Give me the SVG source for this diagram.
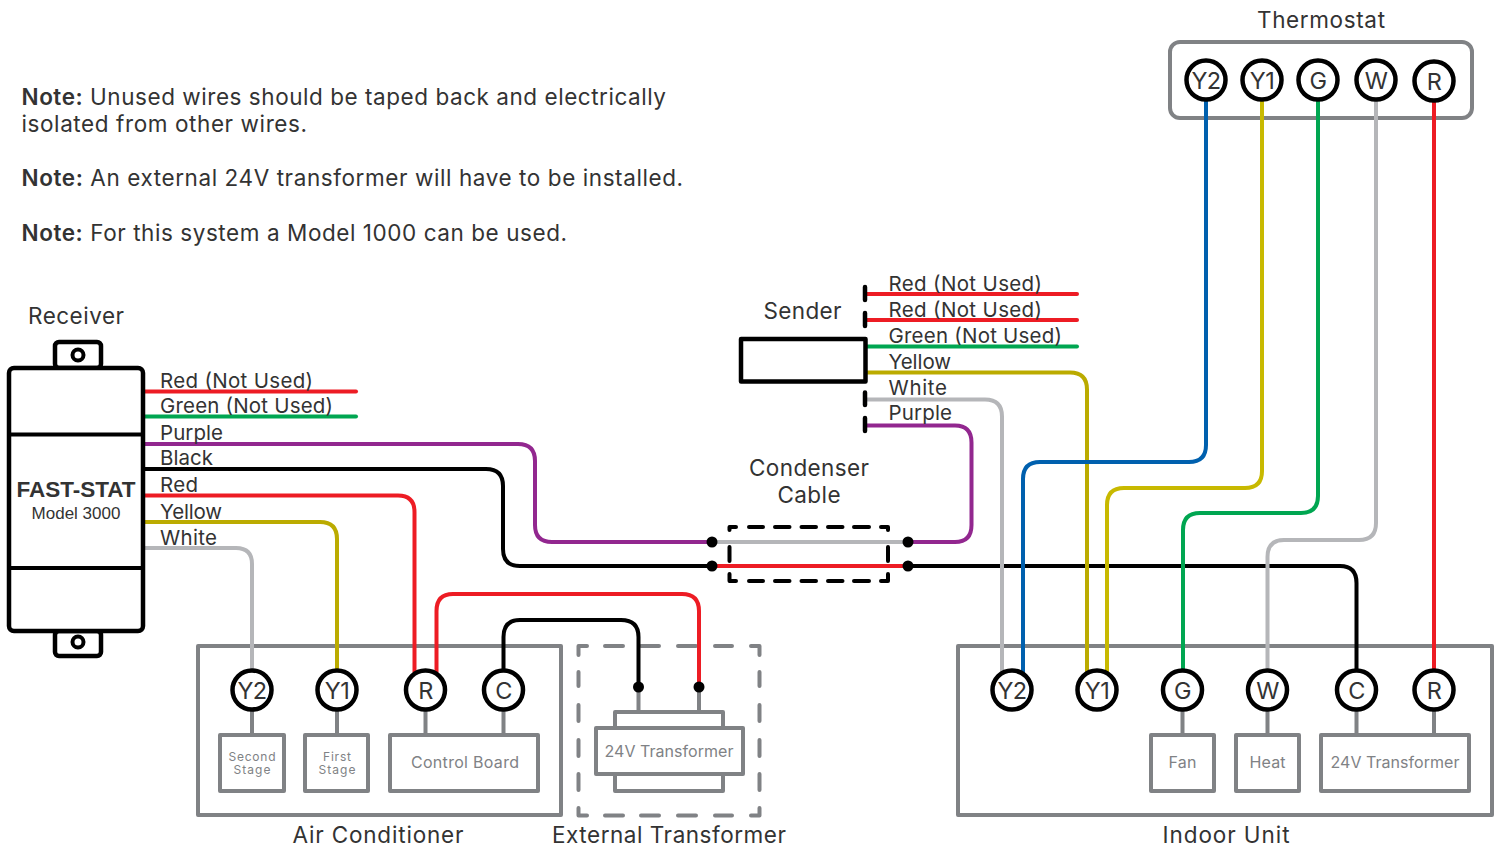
<svg xmlns="http://www.w3.org/2000/svg" width="1500" height="846" viewBox="0 0 1500 846">
<style>
text{font-family:"Inter","Noto Sans","Liberation Sans",sans-serif;fill:#333;font-size:20.500px}
.note{font-size:22.500px}
.note tspan{font-weight:600}
.mid{text-anchor:middle}
.title{font-size:22.500px;text-anchor:middle}
.pin{font-size:23.500px;letter-spacing:-.6px;text-anchor:middle}
.gr{fill:#808285;font-size:16px;text-anchor:middle}
.sm{fill:#808285;font-size:12px;text-anchor:middle}
.ar{font-family:"Liberation Sans",Arial,sans-serif;text-anchor:middle}
.box{fill:#fff;stroke:#808285;stroke-width:4;stroke-linejoin:round}
.gl{fill:none;stroke:#808285;stroke-width:4}
.gd{fill:none;stroke:#808285;stroke-width:4;stroke-linecap:round;stroke-linejoin:round}
.kd{fill:none;stroke:#000;stroke-width:4;stroke-linecap:round;stroke-linejoin:round}
.blk{fill:#fff;stroke:#000;stroke-width:4.500;stroke-linejoin:round}
circle.t{fill:#fff;stroke:#000;stroke-width:4.500}
.w{fill:none;stroke-width:4;stroke-linecap:round}
.red{stroke:#ed1c24}.grn{stroke:#00a651}.pur{stroke:#92278f}.bk{stroke:#000}.yel{stroke:#bbab00}.yel2{stroke:#c8b900}.wht{stroke:#b5b6b9}.blu{stroke:#0060ae}
</style>
<g id="notes">
<text class="note" x="21.500" y="104.500" textLength="644.500"><tspan>Note:</tspan> Unused wires should be taped back and electrically</text>
<text class="note" x="21.500" y="131.500" textLength="285.500">isolated from other wires.</text>
<text class="note" x="21.500" y="185.500" textLength="661.500"><tspan>Note:</tspan> An external 24V transformer will have to be installed.</text>
<text class="note" x="21.500" y="240.500" textLength="545.500"><tspan>Note:</tspan> For this system a Model 1000 can be used.</text>
</g>
<g id="air-conditioner">
<rect class="box" x="198" y="646" width="363" height="169"/>
<path class="gl" d="M252 690V735M337 690V735M425.500 690V735M503.500 690V735"/>
<rect class="box" x="220" y="735" width="64" height="56"/>
<rect class="box" x="305" y="735" width="63" height="56"/>
<rect class="box" x="390" y="735" width="148" height="56"/>
<text class="sm" x="252" y="760.500" textLength="47">Second</text><text class="sm" x="252" y="773.500" textLength="37">Stage</text>
<text class="sm" x="337" y="760.500" textLength="28">First</text><text class="sm" x="337" y="773.500" textLength="37">Stage</text>
<text class="gr" x="465" y="768" textLength="108">Control Board</text>
<text class="title" x="378" y="843" textLength="171">Air Conditioner</text>
</g>
<g id="external-transformer">
<path class="gd" d="M587 646H578.500V655M605 646H623M641 646H659M678 646H696M715 646H732M751 646H759.500V655M578.500 672V686M578.500 705V721M578.500 740V756M578.500 774V790M578.500 808V815.500H587M759.500 672V686M759.500 705V721M759.500 740V756M759.500 774V790M759.500 808V815.500H751M605 815.500H623M641 815.500H659M678 815.500H696M715 815.500H732"/>
<path class="gl" d="M638.500 687V712M699 687V712"/>
<rect class="box" x="615" y="712" width="108" height="16"/>
<rect class="box" x="615" y="774" width="108" height="17"/>
<rect class="box" x="596" y="728" width="147" height="46"/>
<text class="gr" x="669" y="757" textLength="129">24V Transformer</text>
<text class="title" x="669" y="843" textLength="234">External Transformer</text>
</g>
<g id="indoor-unit">
<rect class="box" x="958" y="646" width="534" height="169"/>
<path class="gl" d="M1182.500 690V735M1267.500 690V735M1356.500 690V735M1434 690V735"/>
<rect class="box" x="1151" y="735" width="63" height="56"/>
<rect class="box" x="1236" y="735" width="63" height="56"/>
<rect class="box" x="1321" y="735" width="148" height="56"/>
<text class="gr" x="1182.500" y="768" textLength="28">Fan</text>
<text class="gr" x="1267.500" y="768" textLength="36">Heat</text>
<text class="gr" x="1395" y="768" textLength="129">24V Transformer</text>
<text class="title" x="1226" y="843" textLength="127">Indoor Unit</text>
</g>
<g id="thermostat">
<rect class="box" x="1170" y="42" width="302" height="76" rx="10"/>
<text class="title" x="1321" y="28" textLength="128">Thermostat</text>
</g>
<g id="connectors">
<path class="w wht" d="M145 548H236Q252 548 252 564V672"/>
<path class="w yel" d="M145 522H320Q337 522 337 539V672"/>
<path class="w red" d="M145 495.500H398Q414.500 495.500 414.500 512V672"/>
<path class="w red" d="M436.500 672V611Q436.500 594 453 594H682Q699 594 699 611V687"/>
<path class="w bk" d="M503.500 672V637Q503.500 620 520 620H621Q638.500 620 638.500 637V687"/>
<path class="w red" d="M145 391.500H356"/>
<path class="w grn" d="M145 416.500H356"/>
<path class="w pur" d="M145 444H518Q535 444 535 461V525Q535 542 552 542H712"/>
<path class="w bk" d="M145 469H486Q503 469 503 486V549Q503 566 520 566H712"/>
<path class="w bk" d="M908 566H1340Q1356.500 566 1356.500 583V672"/>
<path class="w wht" d="M712 542H908"/>
<path class="w red" d="M712 566H908"/>
<path class="w pur" d="M908 542H955Q971.500 542 971.500 525V442.500Q971.500 425.500 955 425.500H866"/>
<path class="w red" d="M866 294H1077"/>
<path class="w red" d="M866 320H1077"/>
<path class="w grn" d="M866 346.500H1077"/>
<path class="w wht" d="M866 399.500H985Q1002 399.500 1002 416.500V672"/>
<path class="w yel" d="M866 372.500H1070Q1087 372.500 1087 389.500V672"/>
<path class="w blu" d="M1206 100V445Q1206 462 1189 462H1040Q1023 462 1023 479V672"/>
<path class="w yel2" d="M1262 100V471Q1262 488 1245 488H1124Q1107 488 1107 505V672"/>
<path class="w grn" d="M1318 100V496Q1318 513 1301 513H1200Q1183 513 1183 530V672"/>
<path class="w wht" d="M1376 100V523Q1376 540 1359 540H1284Q1267.500 540 1267.500 557V672"/>
<path class="w red" d="M1434 100V672"/>
<g fill="#000"><circle cx="712" cy="542" r="5.500"/><circle cx="712" cy="566" r="5.500"/><circle cx="908" cy="542" r="5.500"/><circle cx="908" cy="566" r="5.500"/><circle cx="638.500" cy="687" r="5.500"/><circle cx="699" cy="687" r="5.500"/></g>
</g>
<g id="condenser-cable">
<path class="kd" d="M736 527H729.500V530M749 527H763M775 527H789.500M801.500 527H816M828 527H842.500M854 527H869M881 527H888V530M729.500 547V561M888 547V561M729.500 574V581H736M888 574V581H881M749 581H763M775 581H789.500M801.500 581H816M828 581H842.500M854 581H869"/>
<text class="title" x="809" y="476" textLength="120">Condenser</text>
<text class="title" x="809" y="503" textLength="63">Cable</text>
</g>
<g id="sender">
<rect x="741" y="339" width="124.500" height="42.500" fill="#fff" stroke="#000" stroke-width="4.500" stroke-linejoin="round"/>
<path d="M865 287V300M865 313V326M865 392.500V405M865 418V431" stroke="#000" stroke-width="4.500" stroke-linecap="round" fill="none"/>
<text class="title" x="802.500" y="319" textLength="78">Sender</text>
<text x="888.500" y="290.500" textLength="153.500">Red (Not Used)</text>
<text x="888.500" y="316.500" textLength="153.500">Red (Not Used)</text>
<text x="888.500" y="342.500" textLength="173.500">Green (Not Used)</text>
<text x="888.500" y="368.500" textLength="62.500">Yellow</text>
<text x="888.500" y="394.500" textLength="58.500">White</text>
<text x="888.500" y="419.500" textLength="63.500">Purple</text>
</g>
<g id="receiver">
<rect class="blk" x="55" y="342" width="46" height="26" rx="4"/>
<rect class="blk" x="55" y="631" width="46" height="25" rx="4"/>
<circle cx="78" cy="355" r="5.500" fill="#fff" stroke="#000" stroke-width="4"/>
<circle cx="78" cy="642" r="5.500" fill="#fff" stroke="#000" stroke-width="4"/>
<rect class="blk" x="9" y="368" width="134" height="263" rx="5"/>
<path d="M9 434.500H143M9 568H143" stroke="#000" stroke-width="4" fill="none"/>
<text class="ar" x="76" y="496.500" style="font-size:22.500px;font-weight:700">FAST-STAT</text>
<text class="ar" x="76" y="519" style="font-size:17px">Model 3000</text>
<text class="title" x="76" y="324" textLength="96">Receiver</text>
<text x="160" y="387.500" textLength="153">Red (Not Used)</text>
<text x="160" y="412.500" textLength="173">Green (Not Used)</text>
<text x="160" y="439.500" textLength="63">Purple</text>
<text x="160" y="464.500" textLength="53">Black</text>
<text x="160" y="491.500" textLength="38">Red</text>
<text x="160" y="518.500" textLength="62">Yellow</text>
<text x="160" y="544.500" textLength="57">White</text>
</g>
<g id="terminals-ac">
<circle class="t" cx="252" cy="690" r="19.500"/><text class="pin" x="252" y="699">Y2</text>
<circle class="t" cx="337" cy="690" r="19.500"/><text class="pin" x="337" y="699">Y1</text>
<circle class="t" cx="425.500" cy="690" r="19.500"/><text class="pin" x="425.500" y="699">R</text>
<circle class="t" cx="503.500" cy="690" r="19.500"/><text class="pin" x="503.500" y="699">C</text>
</g>
<g id="terminals-indoor">
<circle class="t" cx="1012" cy="690" r="19.500"/><text class="pin" x="1012" y="699">Y2</text>
<circle class="t" cx="1097" cy="690" r="19.500"/><text class="pin" x="1097" y="699">Y1</text>
<circle class="t" cx="1182.500" cy="690" r="19.500"/><text class="pin" x="1182.500" y="699">G</text>
<circle class="t" cx="1267.500" cy="690" r="19.500"/><text class="pin" x="1267.500" y="699">W</text>
<circle class="t" cx="1356.500" cy="690" r="19.500"/><text class="pin" x="1356.500" y="699">C</text>
<circle class="t" cx="1434" cy="690" r="19.500"/><text class="pin" x="1434" y="699">R</text>
</g>
<g id="terminals-thermostat">
<circle class="t" cx="1206" cy="80" r="19.500"/><text class="pin" x="1206" y="89">Y2</text>
<circle class="t" cx="1262" cy="80" r="19.500"/><text class="pin" x="1262" y="89">Y1</text>
<circle class="t" cx="1318" cy="80" r="19.500"/><text class="pin" x="1318" y="89">G</text>
<circle class="t" cx="1376" cy="80" r="19.500"/><text class="pin" x="1376" y="89">W</text>
<circle class="t" cx="1434" cy="81" r="19.500"/><text class="pin" x="1434" y="90">R</text>
</g>
</svg>
